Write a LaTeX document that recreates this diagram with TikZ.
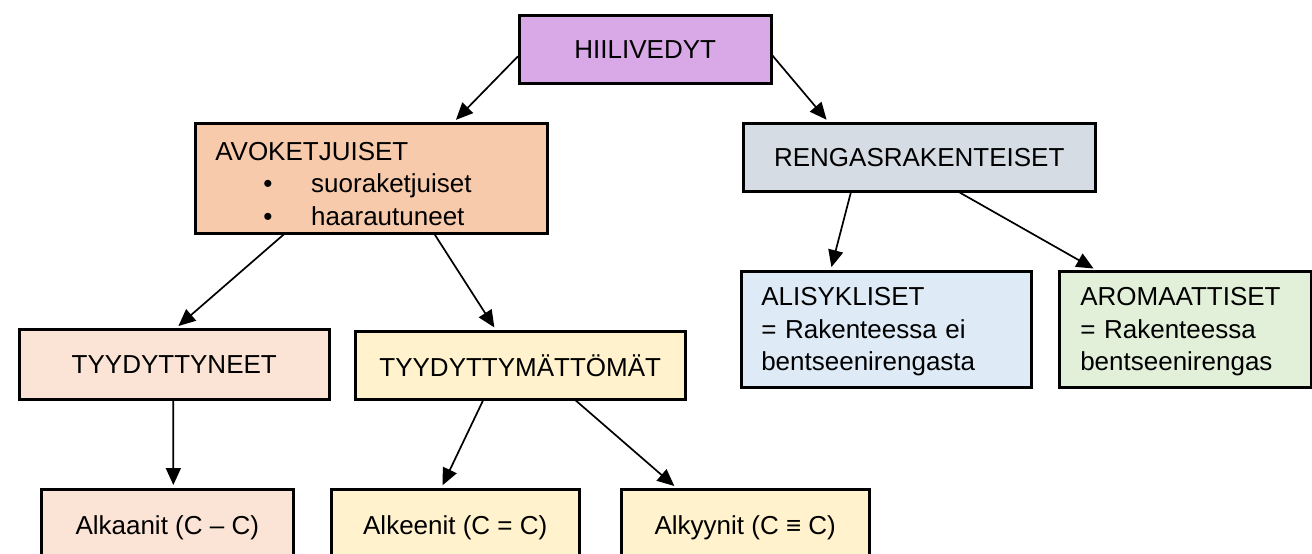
\documentclass[tikz,border=0pt]{standalone}
\usepackage{fontspec}
\setmainfont{Liberation Sans}
\usetikzlibrary{arrows.meta,calc}
\definecolor{cHii}{RGB}{217,168,230}
\definecolor{cAvo}{RGB}{247,202,172}
\definecolor{cRen}{RGB}{214,220,228}
\definecolor{cTyy}{RGB}{251,228,213}
\definecolor{cTym}{RGB}{255,242,204}
\definecolor{cAli}{RGB}{222,234,246}
\definecolor{cAro}{RGB}{226,239,217}
\begin{document}
\begin{tikzpicture}[x=1pt,y=-1pt,
  box/.style={draw=black,line width=2.5pt,rectangle,inner sep=0pt,
    font=\fontsize{26}{32.5}\selectfont,anchor=north west},
  lbox/.style={box,align=left,inner xsep=20pt},
  arr/.style={line width=1.7pt,-{Triangle[length=17pt,width=15pt]},shorten >=3pt},
]
\clip (0,0) rectangle (1312,554);
\fill[white] (0,0) rectangle (1312,554);

\node[box,fill=cHii,minimum width=252pt,minimum height=68pt] (hii) at (518,14) {HIILIVEDYT};
\node[lbox,fill=cAvo,text width=312pt,minimum height=110pt] (avo) at (194,122)
  {\rule{0pt}{29pt}AVOKETJUISET\\
   \hspace*{48pt}\makebox[48pt][l]{\textbullet}suoraketjuiset\\
   \hspace*{48pt}\makebox[48pt][l]{\textbullet}haarautuneet};
\node[box,fill=cRen,minimum width=352pt,minimum height=68pt] (ren) at (742,122) {RENGASRAKENTEISET};
\node[box,fill=cTyy,minimum width=310pt,minimum height=70pt] (tyy) at (18,328) {TYYDYTTYNEET};
\node[box,fill=cTym,minimum width=330pt,minimum height=68pt] (tym) at (354,330) {TYYDYTTYMÄTTÖMÄT};
\node[lbox,fill=cAli,text width=250pt,minimum height=116pt] (ali) at (740,270)
  {\rule{0pt}{23pt}ALISYKLISET\\= Rakenteessa ei\\bentseenirengasta};
\node[lbox,fill=cAro,text width=210pt,minimum height=116pt,inner xsep=21pt] (aro) at (1058,270)
  {\rule{0pt}{23pt}AROMAATTISET\\= Rakenteessa\\bentseenirengas};
\node[box,fill=cTyy,minimum width=252pt,minimum height=78pt] (alka) at (40,488) {Alkaanit (C – C)};
\node[box,fill=cTym,minimum width=248pt,minimum height=78pt] (alke) at (330,488) {Alkeenit (C = C)};
\node[box,fill=cTym,minimum width=248pt,minimum height=78pt] (alky) at (620,488) {Alkyynit (C ≡ C)};

\draw[arr] ($(hii.north west)!0.6!(hii.south west)$) -- ($(avo.north west)!0.733!(avo.north east)$);
\draw[arr] ($(hii.north east)!0.59!(hii.south east)$) -- ($(ren.north west)!0.244!(ren.north east)$);
\draw[arr] ($(avo.south west)!0.253!(avo.south east)$) -- ($(tyy.north west)!0.506!(tyy.north east)$);
\draw[arr] ($(avo.south west)!0.679!(avo.south east)$) -- ($(tym.north west)!0.427!(tym.north east)$);
\draw[arr] ($(tyy.south west)!0.497!(tyy.south east)$) -- ($(alka.north west)!0.524!(alka.north east)$);
\draw[arr] ($(tym.south west)!0.388!(tym.south east)$) -- ($(alke.north west)!0.444!(alke.north east)$);
\draw[arr] ($(tym.south west)!0.667!(tym.south east)$) -- ($(alky.north west)!0.226!(alky.north east)$);
\draw[arr] ($(ren.south west)!0.307!(ren.south east)$) -- ($(ali.north west)!0.31!(ali.north east)$);
\draw[arr] ($(ren.south west)!0.614!(ren.south east)$) -- ($(aro.north west)!0.15!(aro.north east)$);
\end{tikzpicture}
\end{document}
